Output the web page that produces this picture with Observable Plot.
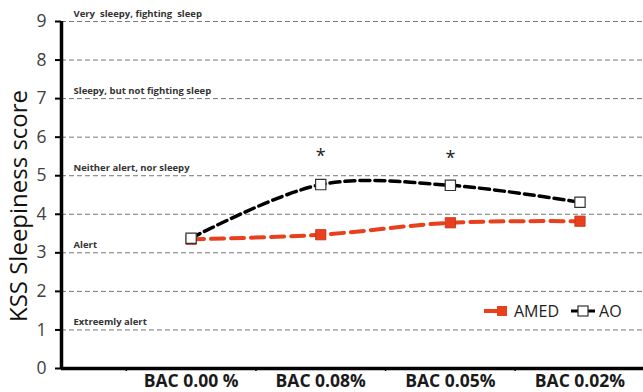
<!DOCTYPE html>
<html>
<head>
<meta charset="utf-8">
<script src="https://cdn.jsdelivr.net/npm/d3@7"></script>
<script src="https://cdn.jsdelivr.net/npm/@observablehq/plot@0.6"></script>
<style>
  html, body { margin: 0; padding: 0; background: #fff; }
  #wrap { position: relative; width: 643px; height: 392px; }
  #legend { position: absolute; left: 484px; top: 300px; font: 16px "Open Sans", sans-serif; color: #222; display: flex; align-items: center; gap: 4px; }
  #legend span { display: inline-flex; align-items: center; }
</style>
</head>
<body>
<div id="wrap"></div>
<script>
const categories = ["BAC 0.00 %", "BAC 0.08%", "BAC 0.05%", "BAC 0.02%"];
const amed = [3.35, 3.47, 3.78, 3.82];
const ao = [3.38, 4.77, 4.75, 4.31];
const sigLabels = ["", "*", "*", ""];
const sigLevel = [null, 5.5, 5.45, null];
const kssLevels = [9, 7, 5, 3, 1];
const kssLabels = ["Very  sleepy, fighting  sleep", "Sleepy, but not fighting sleep", "Neither alert, nor sleepy", "Alert", "Extreemly alert"];
const yTicks = [0, 1, 2, 3, 4, 5, 6, 7, 8, 9];

const rows = categories.map((c, i) => ({i: i + 1, cat: c, amed: amed[i], ao: ao[i], sig: sigLabels[i], sigY: sigLevel[i]}));
const kss = kssLevels.map((v, i) => ({v, label: kssLabels[i]}));
const RED = "#e8401c";
const font = '"Open Sans", sans-serif';

const chart = Plot.plot({
  width: 643,
  height: 392,
  marginLeft: 61,
  marginRight: 0,
  marginTop: 21,
  marginBottom: 24,
  style: {fontFamily: font, background: "#fff"},
  x: {domain: [0, 4.49], axis: null},
  y: {domain: [0, 9], axis: null},
  marks: [
    Plot.ruleY(yTicks.filter(d => d > 0), {stroke: "#777", strokeWidth: 1, strokeDasharray: "5,3"}),
    Plot.text(kss, {y: "v", text: "label", frameAnchor: "left", textAnchor: "start", dx: 12, dy: -8, fontSize: 9.5, fontWeight: "bold", fill: "#333"}),
    Plot.axisY({ticks: yTicks, tickSize: 6, tickPadding: 9, fontSize: 17.5, stroke: "#000", strokeWidth: 2, color: "#404040", label: null}),
    Plot.axisX({ticks: [0.5, 1.5, 2.5, 3.5], tickSize: 3, tickFormat: () => "", stroke: "#000", strokeWidth: 1.5, label: null}),
    Plot.axisX({ticks: [1, 2, 3, 4], tickSize: 0, tickPadding: 6, tickFormat: d => categories[d - 1], fontSize: 17.5, fontWeight: "bold", color: "#1a1a1a", label: null}),
    Plot.line(rows, {x: "i", y: "amed", curve: "catmull-rom", stroke: RED, strokeWidth: 4, strokeDasharray: "13,7"}),
    Plot.line(rows, {x: "i", y: "ao", curve: "catmull-rom", stroke: "#000", strokeWidth: 3.5, strokeDasharray: "10,5"}),
    Plot.dot(rows, {x: "i", y: "amed", symbol: "square", r: 5.8, fill: RED, stroke: "#c0301a", strokeWidth: 0.8}),
    Plot.dot(rows, {x: "i", y: "ao", symbol: "square", r: 5.8, fill: "#fff", stroke: "#333", strokeWidth: 1.2}),
    Plot.text(rows.filter(d => d.sig), {x: "i", y: "sigY", text: "sig", fontSize: 18, fill: "#222"}),
    Plot.ruleX([0], {stroke: "#000", strokeWidth: 3.5}),
    Plot.ruleY([0], {stroke: "#000", strokeWidth: 3.5}),
    Plot.text(["KSS Sleepiness score"], {frameAnchor: "left", textAnchor: "middle", lineAnchor: "middle", dx: -42, dy: 11, rotate: -90, fontSize: 24, fill: "#111", text: d => d})
  ]
});

const wrap = document.getElementById("wrap");
wrap.appendChild(chart);

const legend = document.createElement("div");
legend.id = "legend";
legend.innerHTML = `
  <span><svg width="26" height="14"><line x1="0" y1="7" x2="20" y2="7" stroke="${RED}" stroke-width="4"/><rect x="13" y="2" width="10" height="10" fill="${RED}"/></svg></span>
  <span style="margin-right:8px">AMED</span>
  <span><svg width="24" height="14"><line x1="0" y1="7" x2="24" y2="7" stroke="#000" stroke-width="3"/><rect x="7" y="2" width="10" height="10" fill="#fff" stroke="#333" stroke-width="1.2"/></svg></span>
  <span>AO</span>`;
wrap.appendChild(legend);
</script>
</body>
</html>
